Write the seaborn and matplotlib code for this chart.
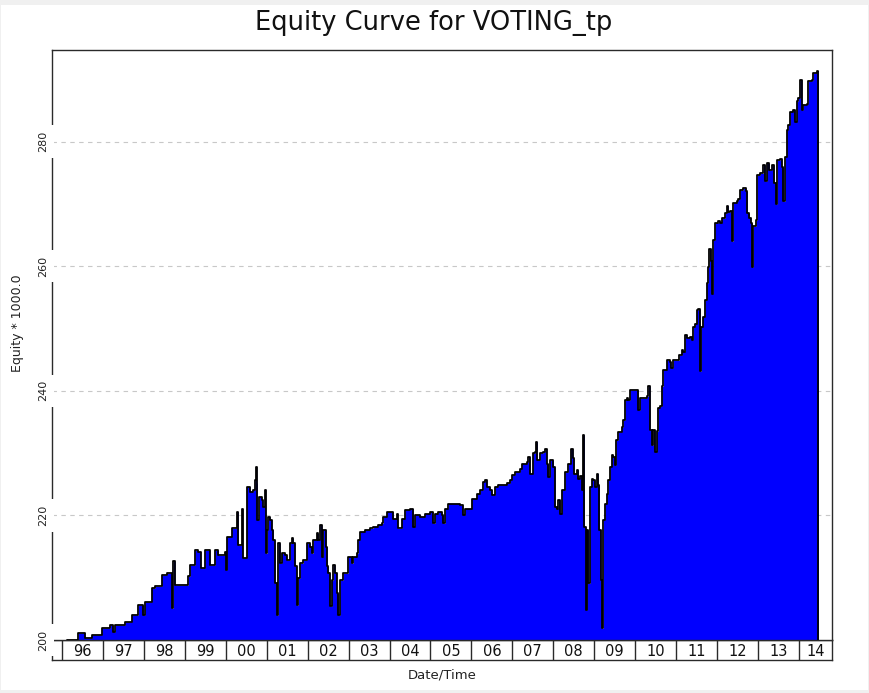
import matplotlib
matplotlib.use("Agg")
import matplotlib.pyplot as plt
import seaborn as sns
import pandas as pd
from matplotlib.patches import Rectangle
from matplotlib.transforms import blended_transform_factory

# ---------------- data ----------------
years = [
    1996.115, 1996.398, 1996.520, 1996.562, 1996.725, 1996.970, 1997.172, 1997.253, 1997.295, 1997.539,
    1997.702, 1997.825, 1997.864, 1997.986, 1998.027, 1998.191, 1998.272, 1998.435, 1998.557, 1998.680,
    1998.719, 1998.760, 1998.924, 1999.085, 1999.127, 1999.249, 1999.329, 1999.388, 1999.493, 1999.615,
    1999.737, 1999.818, 1999.981, 1999.998, 2000.023, 2000.145, 2000.267, 2000.306, 2000.389, 2000.414,
    2000.511, 2000.592, 2000.673, 2000.714, 2000.739, 2000.756, 2000.770, 2000.819, 2000.878, 2000.902,
    2000.958, 2000.976, 2001.015, 2001.039, 2001.081, 2001.122, 2001.161, 2001.203, 2001.244, 2001.283,
    2001.325, 2001.366, 2001.447, 2001.488, 2001.569, 2001.611, 2001.650, 2001.691, 2001.733, 2001.772,
    2001.813, 2001.894, 2001.977, 2002.058, 2002.099, 2002.138, 2002.221, 2002.260, 2002.302, 2002.343,
    2002.382, 2002.448, 2002.480, 2002.505, 2002.546, 2002.588, 2002.627, 2002.668, 2002.710, 2002.749,
    2002.790, 2002.871, 2002.954, 2002.993, 2003.076, 2003.115, 2003.198, 2003.237, 2003.279, 2003.401,
    2003.523, 2003.604, 2003.726, 2003.809, 2003.848, 2003.931, 2004.053, 2004.092, 2004.175, 2004.200,
    2004.297, 2004.378, 2004.500, 2004.581, 2004.622, 2004.745, 2004.867, 2004.989, 2005.055, 2005.111,
    2005.192, 2005.275, 2005.314, 2005.355, 2005.436, 2005.599, 2005.721, 2005.788, 2005.844, 2005.966,
    2006.007, 2006.130, 2006.210, 2006.291, 2006.332, 2006.374, 2006.454, 2006.496, 2006.576, 2006.657,
    2006.862, 2006.943, 2006.984, 2007.065, 2007.187, 2007.229, 2007.351, 2007.390, 2007.431, 2007.497,
    2007.554, 2007.578, 2007.610, 2007.676, 2007.756, 2007.798, 2007.839, 2007.879, 2007.920, 2008.001,
    2008.042, 2008.084, 2008.123, 2008.164, 2008.206, 2008.286, 2008.367, 2008.425, 2008.474, 2008.506,
    2008.572, 2008.611, 2008.653, 2008.694, 2008.733, 2008.758, 2008.792, 2008.816, 2008.856, 2008.897,
    2008.938, 2008.977, 2009.019, 2009.060, 2009.100, 2009.124, 2009.158, 2009.183, 2009.222, 2009.263,
    2009.305, 2009.344, 2009.385, 2009.427, 2009.466, 2009.507, 2009.532, 2009.588, 2009.671, 2009.710,
    2009.752, 2009.793, 2009.832, 2009.874, 2009.915, 2010.037, 2010.077, 2010.118, 2010.282, 2010.321,
    2010.362, 2010.404, 2010.443, 2010.485, 2010.526, 2010.565, 2010.606, 2010.648, 2010.687, 2010.770,
    2010.851, 2010.868, 2010.932, 2011.015, 2011.078, 2011.137, 2011.176, 2011.217, 2011.259, 2011.340,
    2011.381, 2011.420, 2011.462, 2011.503, 2011.542, 2011.584, 2011.608, 2011.650, 2011.706, 2011.747,
    2011.786, 2011.811, 2011.845, 2011.869, 2011.908, 2011.950, 2012.031, 2012.072, 2012.114, 2012.195,
    2012.236, 2012.275, 2012.317, 2012.358, 2012.397, 2012.480, 2012.519, 2012.561, 2012.641, 2012.707,
    2012.739, 2012.788, 2012.822, 2012.861, 2012.886, 2012.952, 2012.983, 2013.049, 2013.130, 2013.171,
    2013.213, 2013.276, 2013.335, 2013.391, 2013.440, 2013.472, 2013.538, 2013.580, 2013.619, 2013.660,
    2013.702, 2013.741, 2013.782, 2013.848, 2013.904, 2013.946, 2013.985, 2014.026, 2014.068, 2014.107,
    2014.190, 2014.229, 2014.312, 2014.351, 2014.434, 2014.474,
]
equity = [
    200.0, 201.1, 201.2, 200.3, 200.8, 201.9, 202.4, 201.3, 202.4, 202.9,
    204.0, 204.0, 205.6, 204.0, 206.1, 208.3, 208.6, 210.4, 210.7, 205.1,
    212.6, 208.8, 208.8, 210.2, 212.0, 214.4, 214.2, 211.6, 214.4, 212.0,
    214.4, 213.6, 214.2, 211.2, 216.6, 217.9, 220.6, 215.2, 221.1, 213.2,
    224.6, 223.8, 224.1, 225.7, 227.7, 225.2, 219.3, 223.0, 222.5, 221.4,
    224.1, 213.9, 217.7, 219.8, 219.3, 217.7, 216.1, 209.1, 204.0, 215.5,
    212.3, 213.9, 213.6, 212.8, 215.5, 216.3, 215.5, 211.8, 205.6, 209.9,
    212.3, 212.8, 215.5, 215.0, 213.9, 216.1, 217.1, 216.1, 218.5, 213.4,
    217.7, 215.0, 211.8, 210.7, 205.4, 209.6, 212.0, 210.7, 207.5, 204.0,
    209.6, 210.7, 210.7, 213.4, 212.3, 213.4, 213.9, 216.1, 217.4, 217.7,
    217.9, 218.2, 218.5, 218.7, 219.8, 220.6, 220.6, 219.5, 220.3, 217.9,
    219.5, 220.9, 221.1, 218.2, 220.1, 219.8, 220.3, 220.6, 218.7, 220.3,
    220.6, 220.0, 218.7, 221.1, 221.9, 221.9, 221.6, 220.1, 221.1, 221.1,
    222.7, 223.5, 224.1, 225.4, 225.7, 224.6, 224.1, 223.3, 224.6, 224.9,
    225.2, 225.7, 226.5, 227.0, 227.5, 228.3, 228.6, 229.4, 226.7, 230.0,
    230.2, 231.8, 228.9, 230.0, 230.2, 230.7, 228.3, 226.2, 228.9, 227.8,
    221.4, 221.1, 222.5, 220.3, 224.1, 227.0, 228.3, 230.7, 229.2, 226.7,
    227.3, 225.9, 226.4, 224.1, 232.9, 218.2, 204.8, 217.7, 209.1, 224.6,
    225.9, 225.7, 224.6, 226.7, 224.9, 217.7, 209.6, 201.9, 219.3, 221.9,
    223.5, 225.7, 227.8, 229.7, 229.4, 228.1, 232.1, 233.4, 234.2, 235.3,
    238.5, 238.8, 238.5, 240.1, 240.1, 240.1, 236.9, 238.8, 239.1, 240.7,
    233.7, 231.3, 233.7, 230.2, 233.5, 237.3, 237.5, 240.7, 243.4, 244.9,
    244.7, 243.7, 244.9, 244.9, 245.7, 246.5, 246.3, 249.0, 248.5, 248.7,
    248.2, 250.3, 250.8, 253.0, 253.2, 243.1, 250.3, 251.9, 254.6, 257.3,
    259.9, 262.8, 260.9, 255.6, 264.2, 267.0, 267.2, 267.0, 267.7, 268.5,
    269.7, 268.7, 268.9, 264.0, 270.2, 270.5, 270.8, 272.2, 272.5, 272.0,
    268.5, 267.7, 266.9, 259.9, 266.4, 267.4, 274.6, 274.9, 276.2, 273.6,
    276.5, 275.4, 276.2, 273.3, 270.0, 277.0, 277.2, 275.9, 270.4, 277.6,
    281.9, 282.7, 284.8, 285.1, 283.2, 286.5, 287.0, 289.9, 285.1, 285.9,
    286.1, 289.7, 289.9, 291.0, 291.4, 291.3,
]
y_ticks = [200, 220, 240, 260, 280]
y_tick_labels = ["200", "220", "240", "260", "280"]
year_starts = list(range(1996, 2015))
year_labels = ["96", "97", "98", "99", "00", "01", "02", "03", "04", "05",
               "06", "07", "08", "09", "10", "11", "12", "13", "14"]

title = "Equity Curve for VOTING_tp"
x_title = "Date/Time"
y_title = "Equity * 1000.0"

df = pd.DataFrame({"year": years, "equity": equity})

# ---------------- styling ----------------
sns.set_theme(style="white")
plt.rcParams["font.family"] = ["DejaVu Sans"]

W, H = 870, 693
fig = plt.figure(figsize=(W / 100, H / 100), dpi=100, facecolor="#f0f0f0")
fig.patches.append(Rectangle((1 / W, 3 / H), 867 / W, 685 / H, transform=fig.transFigure,
                             facecolor="white", edgecolor="none", zorder=-10))

XMIN, XMAX = 1995.756, 2014.806
YMIN, YMAX = 200, 294.7
frame_col = "#2a2a2a"

ax = fig.add_axes([52 / W, 53 / H, 780 / W, 590 / H])
ax.set_zorder(1)
ax.set_facecolor("white")

for v in y_ticks[1:]:
    ax.axhline(v, color="#c8c8c8", lw=0.8, ls=(0, (4, 4)), zorder=1)

ax.fill_between(df["year"], YMIN, df["equity"], color="#0000ff", lw=0, zorder=2, step="post")
sns.lineplot(data=df, x="year", y="equity", color="black", lw=1.3, ax=ax,
             estimator=None, sort=False, zorder=3, drawstyle="steps-post")
ax.vlines(df["year"].iloc[-1], YMIN, df["equity"].iloc[-1], color="black", lw=1.3, zorder=3)

ax.set_xlim(XMIN, XMAX)
ax.set_ylim(YMIN, YMAX)
ax.set_xticks([])
ax.set_xlabel("")
ax.set_yticks(y_ticks)
ax.set_yticklabels([])
ax.tick_params(axis="y", length=0, left=False)
for s in ax.spines.values():
    s.set_color(frame_col)
    s.set_linewidth(1.0)

# y tick labels sitting on the (interrupted) left frame line
trans = blended_transform_factory(ax.transAxes, ax.transData)
for v, lab in zip(y_ticks, y_tick_labels):
    ax.text(-3.5 / 780, v, lab, transform=trans, rotation=90, ha="right", va="center",
            fontsize=8, color="#222222", zorder=10, clip_on=False,
            bbox=dict(facecolor="white", edgecolor="none", pad=4.0))

ax.set_ylabel(y_title, fontsize=9, color="#222222")
ax.yaxis.set_label_coords((24 - 52) / 780, (640 - 323) / 590)

# date strip
ax2 = fig.add_axes([52 / W, 33 / H, 780 / W, 20 / H])
ax2.set_zorder(0.5)
ax2.set_facecolor("white")
ax2.set_xlim(XMIN, XMAX)
ax2.set_ylim(0, 1)
ax2.set_xticks([])
ax2.set_yticks([])
ax2.vlines(year_starts, 0, 1, color=frame_col, lw=1.0)
for ys, lab in zip(year_starts, year_labels):
    right = min(ys + 1, XMAX)
    ax2.text((ys + right) / 2, 0.45, lab, ha="center", va="center", fontsize=10.5, color="#111111")
for s in ax2.spines.values():
    s.set_color(frame_col)
    s.set_linewidth(1.0)
ax2.set_xlabel(x_title, fontsize=9.5, color="#222222")
ax2.xaxis.set_label_coords(0.5, (660 - 669) / 20)

fig.suptitle(title, x=434 / W, y=1 - 23 / H, va="center", fontsize=18.5, color="#111111")

fig.savefig("out.png", dpi=100, facecolor=fig.get_facecolor())
